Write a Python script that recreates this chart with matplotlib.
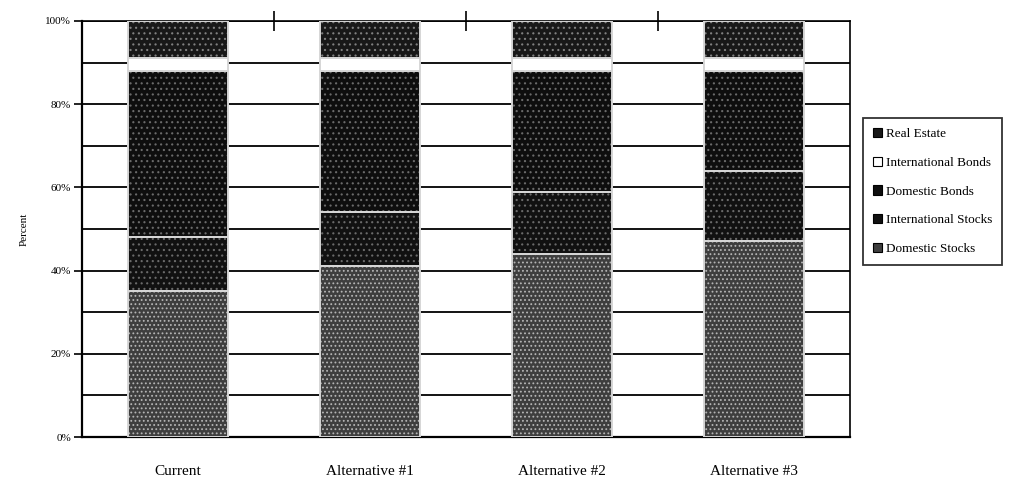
import numpy as np
import matplotlib
matplotlib.use("Agg")
import matplotlib.pyplot as plt
from matplotlib.patches import Patch

plt.rcParams['font.family'] = ['Liberation Serif', 'DejaVu Serif']
plt.rcParams['hatch.linewidth'] = 0.8

categories = ["Current", "Alternative #1", "Alternative #2", "Alternative #3"]
series_names = ["Domestic Stocks", "International Stocks", "Domestic Bonds",
                "International Bonds", "Real Estate"]
domestic_stocks = [35, 41, 44, 47]
intl_stocks = [13, 13, 15, 17]
domestic_bonds = [40, 34, 29, 24]
intl_bonds = [3, 3, 3, 3]
real_estate = [9, 9, 9, 9]
yticks = [0, 20, 40, 60, 80, 100]
ytick_labels = ["0%", "20%", "40%", "60%", "80%", "100%"]

values = [domestic_stocks, intl_stocks, domestic_bonds, intl_bonds, real_estate]
faces = ["#3e3e3e", "#111111", "#0e0e0e", "#ffffff", "#181818"]
hatch_cols = ["#b5b5b5", "#6a6a6a", "#6a6a6a", "#ffffff", "#808080"]
hatches = ["....", "...", "...", None, "..."]

fig = plt.figure(figsize=(10.21, 4.86), dpi=100)
ax = fig.add_axes([0.0803, 0.1008, 0.752, 0.856])

x = np.arange(len(categories))
bottom = np.zeros(len(categories))
for vals, fc, hc, h in zip(values, faces, hatch_cols, hatches):
    # textured fill, then a light outline that gives the white separators
    ax.bar(x, vals, width=0.52, bottom=bottom, color=fc, edgecolor=hc,
           linewidth=0, hatch=h, zorder=3)
    ax.bar(x, vals, width=0.52, bottom=bottom, color='none',
           edgecolor='#d6d6d6', linewidth=1.4, zorder=4)
    bottom += np.array(vals)

ax.set_xlim(-0.5, 3.5)
ax.set_ylim(0, 100)
ax.set_yticks(yticks)
ax.set_yticklabels(ytick_labels, fontsize=8)
ax.set_yticks(range(0, 101, 10), minor=True)
ax.grid(axis='y', which='both', color='black', linewidth=1.3, zorder=0)
ax.set_axisbelow(True)
ax.set_xticks(x)
ax.set_xticklabels(categories, fontsize=11)
ax.set_xticks([0.5, 1.5, 2.5], minor=True)
ax.tick_params(axis='x', which='major', length=0, pad=20)
ax.tick_params(axis='x', which='minor', bottom=False, top=True,
               direction='inout', length=14, width=1.2)
ax.tick_params(axis='y', which='major', length=6, width=1.2, pad=2)
ax.tick_params(axis='y', which='minor', length=0)
ax.set_ylabel("Percent", fontsize=8, labelpad=12)

for s in ['left', 'bottom']:
    ax.spines[s].set_linewidth(1.6)
ax.spines['top'].set_linewidth(1.2)
ax.spines['right'].set_linewidth(1.2)

handles = [Patch(facecolor=fc, edgecolor='black', linewidth=0.8)
           for fc in faces]
leg = fig.legend(handles[::-1], series_names[::-1], loc='upper left',
                 bbox_to_anchor=(0.845, 0.757), fontsize=9.5, frameon=True,
                 fancybox=False, handlelength=0.7, handleheight=0.7,
                 handletextpad=0.3, labelspacing=1.25, borderpad=0.75,
                 borderaxespad=0)
leg.get_frame().set_edgecolor('black')
leg.get_frame().set_linewidth(1.3)

plt.savefig("out.png", dpi=100)
